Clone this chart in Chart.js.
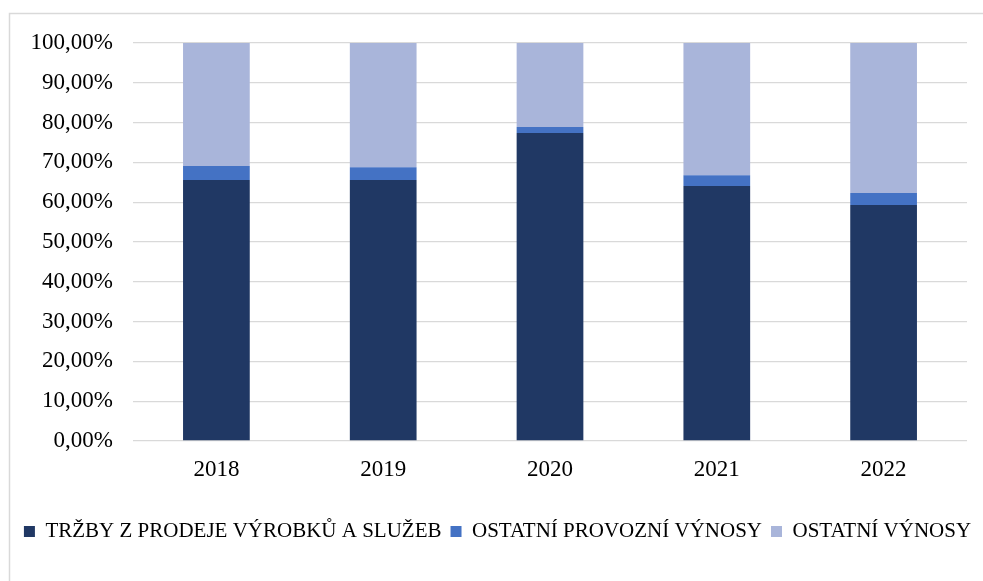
<!DOCTYPE html>
<html>
<head>
<meta charset="utf-8">
<script src="https://cdn.jsdelivr.net/npm/chart.js@4"></script>
<style>
  html, body { margin: 0; padding: 0; background: #fff; }
  #obal { width: 983px; height: 581px; position: relative; }
</style>
</head>
<body>
<div id="obal"><canvas id="graf"></canvas></div>
<script>
// roky a podíly jednotlivých výnosů (v %)
const roky = ['2018', '2019', '2020', '2021', '2022'];
const trzby = [65.6, 65.6, 77.4, 64.1, 59.3];
const provozni = [3.5, 3.2, 1.5, 2.7, 3.0];
const ostatni = [30.9, 31.2, 21.1, 33.2, 37.7];
const popisky = ['TRŽBY Z PRODEJE VÝROBKŮ A SLUŽEB', 'OSTATNÍ PROVOZNÍ VÝNOSY', 'OSTATNÍ VÝNOSY'];
const barvy = ['#203864', '#4472C4', '#A9B5DA'];

const pismo = 'Liberation Serif';

// rámeček kolem grafu (jako v Excelu)
const ramecek = {
    id: 'ramecek',
    beforeDraw(chart) {
        const ctx = chart.ctx;
        ctx.save();
        ctx.fillStyle = '#fff';
        ctx.fillRect(0, 0, chart.width, chart.height);
        ctx.strokeStyle = '#d9d9d9';
        ctx.lineWidth = 1.5;
        ctx.strokeRect(9.5, 13.5, 2000, 2000);
        ctx.restore();
    }
};

const ctx = document.getElementById('graf').getContext('2d');
new Chart(ctx, {
    type: 'bar',
    data: {
        labels: roky,
        datasets: [
            { label: popisky[0], data: trzby, backgroundColor: barvy[0] },
            { label: popisky[1], data: provozni, backgroundColor: barvy[1] },
            { label: popisky[2], data: ostatni, backgroundColor: barvy[2] }
        ]
    },
    options: {
        responsive: true,
        maintainAspectRatio: false,
        animation: false,
        layout: { padding: { left: 12, right: 0, top: 43, bottom: 29 } },
        datasets: { bar: { categoryPercentage: 1, barPercentage: 0.4 } },
        scales: {
            x: {
                stacked: true,
                grid: { display: false, drawTicks: false },
                border: { display: false },
                ticks: { color: '#000', padding: 15, font: { family: pismo, size: 23 } },
                afterFit: (s) => { s.height = 71; }
            },
            y: {
                stacked: true,
                min: 0,
                max: 100,
                grid: { color: '#d9d9d9', lineWidth: 1.3, drawTicks: false },
                border: { display: false },
                ticks: {
                    stepSize: 10,
                    color: '#000',
                    padding: 20,
                    font: { family: pismo, size: 23 },
                    callback: (v) => v.toFixed(2).replace('.', ',') + '%'
                },
                afterFit: (s) => { s.width = 121; }
            },
            // prázdná osa vpravo jen kvůli odsazení plochy grafu
            y2: {
                position: 'right',
                grid: { display: false, drawTicks: false },
                border: { display: false },
                ticks: { display: false },
                afterFit: (s) => { s.width = 16; }
            }
        },
        plugins: {
            legend: {
                position: 'bottom',
                labels: {
                    boxWidth: 11,
                    boxHeight: 11,
                    padding: 9,
                    color: '#000',
                    font: { family: pismo, size: 21 }
                }
            },
            tooltip: { enabled: false }
        }
    },
    plugins: [ramecek]
});
</script>
</body>
</html>
